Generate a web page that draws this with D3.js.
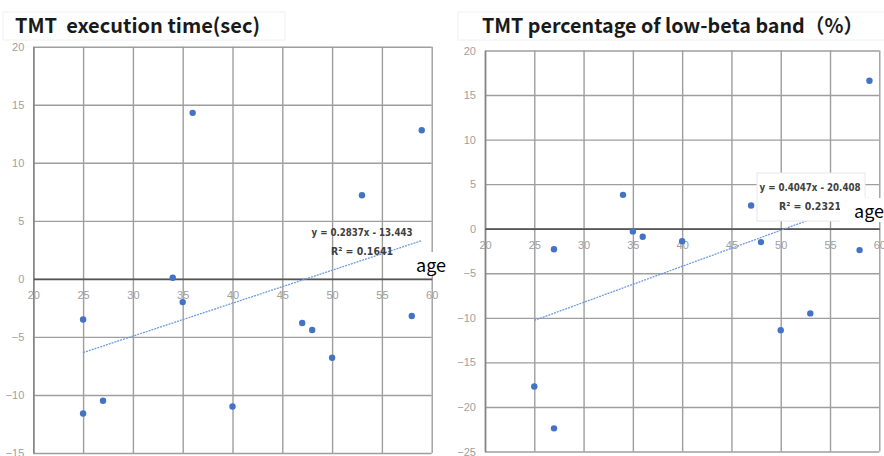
<!DOCTYPE html>
<html>
<head>
<meta charset="utf-8">
<script src="https://cdn.jsdelivr.net/npm/d3@7"></script>
<style>
    body { margin: 0; background: #fff; }
    .tick text { font-family: "Liberation Sans", Arial, sans-serif; font-size: 11px; fill: #a0a0a0; }
</style>
</head>
<body>
<svg id="chart" width="884" height="456"></svg>
<script>
// ages and values
var leftAge  = [25, 25, 27, 34, 35, 36, 40, 47, 48, 50, 53, 58, 59];
var leftTime = [-3.5, -11.6, -10.5, 0.1, -2.0, 14.3, -11.0, -3.8, -4.4, -6.8, 7.2, -3.2, 12.8];

var rightAge  = [25, 27, 27, 34, 35, 36, 40, 47, 48, 50, 53, 58, 59];
var rightBeta = [-17.7, -2.3, -22.4, 3.8, -0.3, -0.9, -1.4, 2.6, -1.5, -11.4, -9.5, -2.4, 16.6];

var xTicks = [20, 25, 30, 35, 40, 45, 50, 55, 60];
var leftYTicks = [-15, -10, -5, 0, 5, 10, 15, 20];
var rightYTicks = [-25, -20, -15, -10, -5, 0, 5, 10, 15, 20];

// trendline coefficients as printed on the charts
var leftTrend = [0.2837, -13.443];
var rightTrend = [0.4047, -20.408];
var leftTrendText = ["y = 0.2837x - 13.443", "R\u00b2 = 0.1641"];
var rightTrendText = ["y = 0.4047x - 20.408", "R\u00b2 = 0.2321"];

var titles = ["TMT  execution time(sec)", "TMT percentage of low-beta band\uff08%\uff09"];

var svg = d3.select("#chart");

svg.append("rect").attr("width", 884).attr("height", 456).attr("fill", "#fff");

function drawChart(opt) {

    var xScale = d3.scaleLinear().domain([20, 60]).range([opt.left, opt.right]);
    var yScale = d3.scaleLinear().domain(opt.yDomain).range([opt.bottom, opt.top]);

    var g = svg.append("g");

    // title with its faint box
    g.append("rect")
        .attr("x", opt.titleBox[0]).attr("y", 12)
        .attr("width", opt.titleBox[1]).attr("height", 28)
        .attr("fill", "#fff").attr("stroke", "#f0f0f0");

    g.append("text")
        .attr("x", opt.titleX).attr("y", 33)
        .style("font-family", "'Noto Sans CJK JP', 'Noto Sans', sans-serif")
        .style("font-weight", "bold")
        .style("font-size", opt.titleSize + "px")
        .style("white-space", "pre")
        .attr("fill", "#1a1a1a")
        .text(opt.title);

    // horizontal gridlines
    g.append("g")
        .attr("transform", "translate(" + opt.left + ",0)")
        .call(d3.axisLeft(yScale).tickValues(opt.yTicks).tickSize(-(opt.right - opt.left)).tickFormat(""))
        .call(function (s) {
            s.select(".domain").remove();
            s.selectAll("line").attr("stroke", "#9e9e9e").attr("stroke-width", 1.4);
        });

    // vertical gridlines
    g.append("g")
        .attr("transform", "translate(0," + opt.bottom + ")")
        .call(d3.axisBottom(xScale).tickValues(xTicks).tickSize(-(opt.bottom - opt.top)).tickFormat(""))
        .call(function (s) {
            s.select(".domain").remove();
            s.selectAll("line").attr("stroke", "#9e9e9e").attr("stroke-width", 1.4);
        });

    // y axis line + labels
    g.append("g")
        .attr("transform", "translate(" + opt.left + ",0)")
        .call(d3.axisLeft(yScale).tickValues(opt.yTicks).tickSize(0).tickPadding(9))
        .call(function (s) {
            s.select(".domain").attr("stroke", "#858585").attr("stroke-width", 1.6);
        });

    // x axis at zero
    g.append("g")
        .attr("transform", "translate(0," + yScale(0) + ")")
        .call(d3.axisBottom(xScale).tickValues(xTicks).tickSize(0).tickPadding(12))
        .call(function (s) {
            s.select(".domain").attr("stroke", "#555").attr("stroke-width", 1.7);
        });

    // trendline
    var x0 = d3.min(opt.ages), x1 = d3.max(opt.ages);
    g.append("line")
        .attr("x1", xScale(x0)).attr("y1", yScale(opt.trend[0] * x0 + opt.trend[1]))
        .attr("x2", xScale(x1)).attr("y2", yScale(opt.trend[0] * x1 + opt.trend[1]))
        .attr("stroke", "#6f9be0")
        .attr("stroke-width", 1.3)
        .attr("stroke-dasharray", "2,1");

    // points
    g.selectAll(".dot")
        .data(opt.ages)
        .enter()
        .append("circle")
        .attr("class", "dot")
        .attr("cx", function (d) { return xScale(d); })
        .attr("cy", function (d, i) { return yScale(opt.values[i]); })
        .attr("r", 3.2)
        .attr("fill", "#4472c4");

    // trend label
    if (opt.labelBox) {
        g.append("rect")
            .attr("x", opt.labelBox[0]).attr("y", opt.labelBox[1])
            .attr("width", opt.labelBox[2]).attr("height", opt.labelBox[3])
            .attr("fill", "#fff").attr("stroke", "#e8e8e8");
    }
    g.selectAll(".tlabel")
        .data(opt.trendText)
        .enter()
        .append("text")
        .attr("class", "tlabel")
        .attr("x", opt.labelX)
        .attr("y", function (d, i) { return opt.labelY + i * 19; })
        .attr("text-anchor", "middle")
        .attr("textLength", function (d, i) { return i == 0 ? 101 : 62; })
        .attr("lengthAdjust", "spacingAndGlyphs")
        .style("font-family", "'Liberation Sans Narrow', 'DejaVu Sans Condensed', sans-serif")
        .style("font-weight", "bold")
        .style("font-size", "11px")
        .attr("fill", "#404040")
        .text(function (d) { return d; });

    // "age" label
    g.append("rect")
        .attr("x", opt.ageBox[0]).attr("y", opt.ageBox[1])
        .attr("width", opt.ageBox[2]).attr("height", opt.ageBox[3])
        .attr("fill", "#fff");
    g.append("text")
        .attr("x", opt.ageBox[0] + 14).attr("y", opt.ageBox[1] + 20)
        .style("font-family", "'Noto Sans CJK JP', 'Noto Sans', sans-serif")
        .style("font-size", "18px")
        .attr("fill", "#000")
        .text("age");
}

drawChart({
    left: 33.3, right: 431.7, top: 46.7, bottom: 453,
    yDomain: [-15, 20], yTicks: leftYTicks,
    ages: leftAge, values: leftTime,
    trend: leftTrend, trendText: leftTrendText,
    labelX: 362, labelY: 235.5, labelBox: null,
    ageBox: [402, 252, 48, 24],
    title: titles[0], titleX: 15, titleSize: 20, titleBox: [3, 282]
});

drawChart({
    left: 485, right: 879.3, top: 50.5, bottom: 451.5,
    yDomain: [-25, 20], yTicks: rightYTicks,
    ages: rightAge, values: rightBeta,
    trend: rightTrend, trendText: rightTrendText,
    labelX: 810, labelY: 191, labelBox: [757, 173, 108, 48],
    ageBox: [840, 198, 48, 24],
    title: titles[1], titleX: 482, titleSize: 19.7, titleBox: [458, 440]
});
</script>
</body>
</html>
